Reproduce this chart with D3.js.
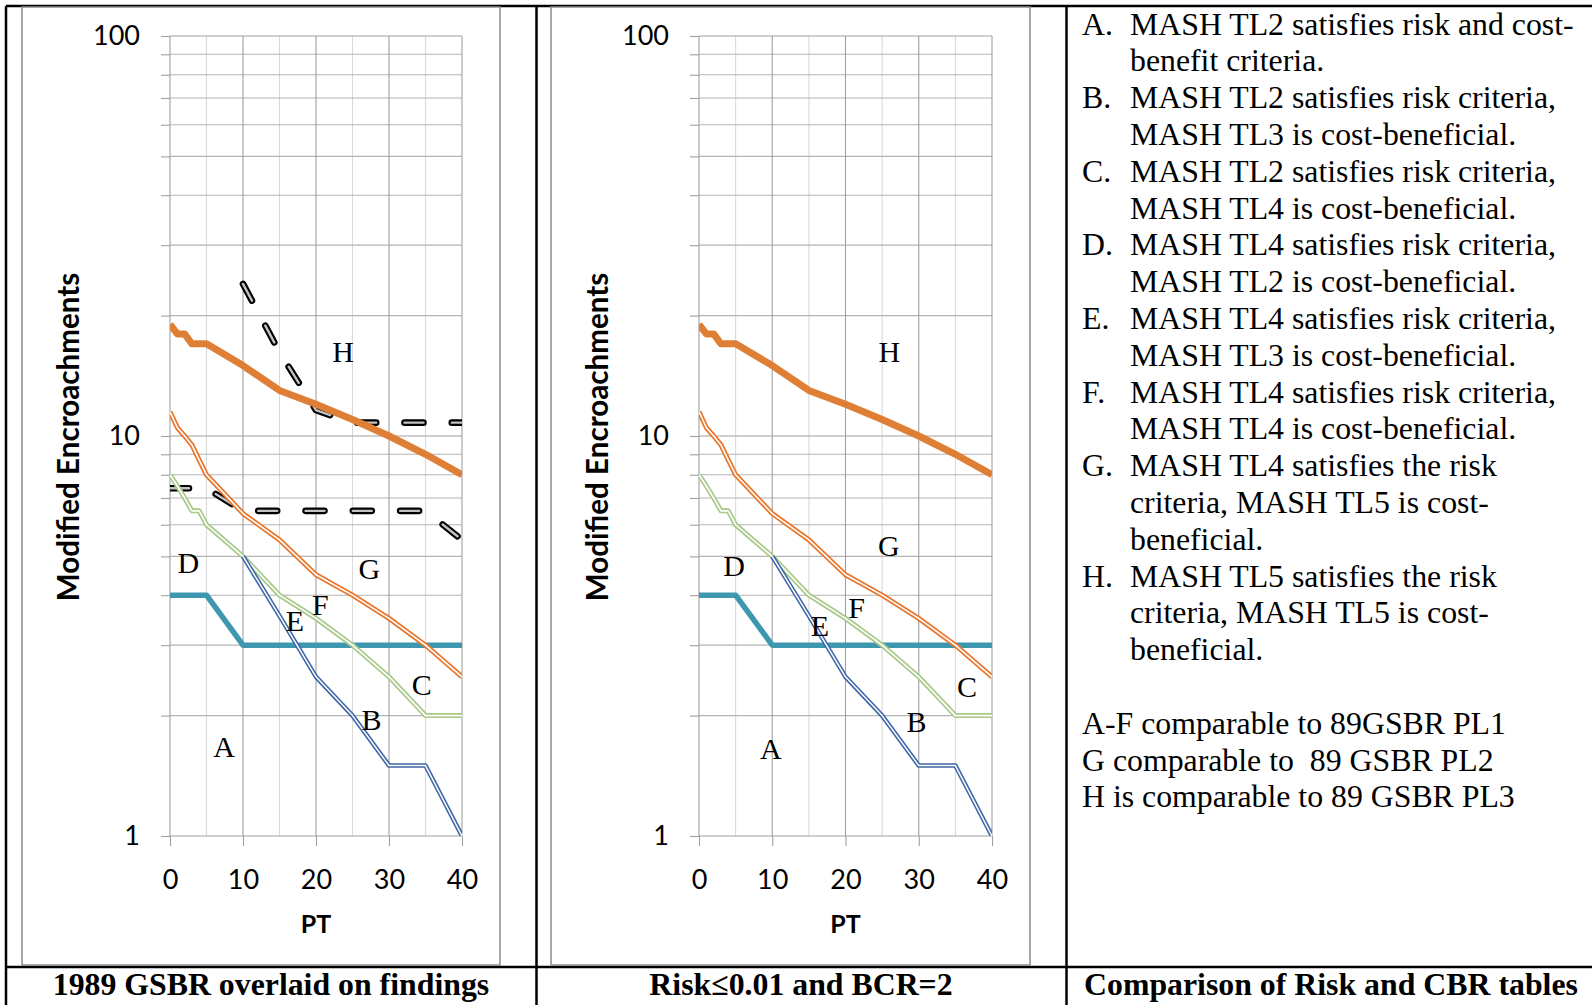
<!DOCTYPE html>
<html>
<head>
<meta charset="utf-8">
<script src="https://cdn.jsdelivr.net/npm/d3@7"></script>
<style>
  html, body { margin: 0; padding: 0; background: #fff; }
  svg { display: block; }
</style>
</head>
<body>
<svg id="page" width="1592" height="1005"></svg>
<script>
// ---- data ---------------------------------------------------------------
// PT values at which the boundary curves are defined
const ptMain   = [0, 1, 2, 3, 4, 5, 10, 15, 20, 25, 30, 35, 40];
// H boundary (MASH TL5 region), thick orange
const boundH   = [19, 18, 18, 17, 17, 17, 15, 13, 12, 11, 10, 9, 8];
// G boundary, thin orange double line
const boundG   = [11.5, 10.5, 10, 9.5, 8.7, 8, 6.4, 5.5, 4.5, 4, 3.5, 3, 2.5];
// F/C boundary, light green double line
const boundF   = [8, 7.5, 7, 6.5, 6.5, 6, 5, 4, 3.5, 3, 2.5, 2, 2];
// E/B boundary, blue double line
const ptE      = [10, 15, 20, 25, 30, 35, 40];
const boundE   = [5, 3.55, 2.5, 2, 1.5, 1.5, 1];
// A/D boundary, teal
const ptA      = [0, 5, 10, 40];
const boundA   = [4, 4, 3, 3];
// 1989 GSBR performance-level boundaries (dashed, left panel only)
const ptGsbrPL3   = [10, 15, 20, 25, 30, 35, 40];
const gsbrPL3     = [24, 16.2, 11.6, 10.8, 10.8, 10.8, 10.8];
const ptGsbrPL2   = [0, 5, 10, 15, 20, 25, 30, 35, 40];
const gsbrPL2     = [7.4, 7.4, 6.5, 6.5, 6.5, 6.5, 6.5, 6.5, 5.5];

// axis ticks
const xTicks     = [0, 10, 20, 30, 40];
const xMinor     = [5, 15, 25, 35];
const yTicks     = [1, 2, 3, 4, 5, 6, 7, 8, 9, 10, 20, 30, 40, 50, 60, 70, 80, 90, 100];
const yLabelled  = [1, 10, 100];

// region letters placed at (PT, encroachments)
const lettersLeft  = [["H", 23.7, 16.2], ["D", 2.5, 4.8], ["G", 27.3, 4.64], ["F", 20.6, 3.78],
                      ["E", 17.1, 3.45], ["C", 34.5, 2.39], ["B", 27.6, 1.95], ["A", 7.4, 1.67]];
const lettersRight = [["H", 26.0, 16.2], ["G", 25.9, 5.3], ["D", 4.8, 4.73], ["F", 21.5, 3.71],
                      ["E", 16.5, 3.34], ["C", 36.6, 2.36], ["B", 29.7, 1.93], ["A", 9.8, 1.65]];

const captions = ["1989 GSBR overlaid on findings", "Risk\u22640.01 and BCR=2", "Comparison of Risk and CBR tables"];

// right-hand column: [list marker, text]
const notes = [
  ["A.", "MASH TL2 satisfies risk and cost-"],
  ["",   "benefit criteria."],
  ["B.", "MASH TL2 satisfies risk criteria,"],
  ["",   "MASH TL3 is cost-beneficial."],
  ["C.", "MASH TL2 satisfies risk criteria,"],
  ["",   "MASH TL4 is cost-beneficial."],
  ["D.", "MASH TL4 satisfies risk criteria,"],
  ["",   "MASH TL2 is cost-beneficial."],
  ["E.", "MASH TL4 satisfies risk criteria,"],
  ["",   "MASH TL3 is cost-beneficial."],
  ["F.", "MASH TL4 satisfies risk criteria,"],
  ["",   "MASH TL4 is cost-beneficial."],
  ["G.", "MASH TL4 satisfies the risk"],
  ["",   "criteria, MASH TL5 is cost-"],
  ["",   "beneficial."],
  ["H.", "MASH TL5 satisfies the risk"],
  ["",   "criteria, MASH TL5 is cost-"],
  ["",   "beneficial."]
];
const comparisons = [
  "A-F comparable to 89GSBR PL1",
  "G comparable to \u00a089 GSBR PL2",
  "H is comparable to 89 GSBR PL3"
];

// ---- drawing ------------------------------------------------------------
const svg = d3.select("#page");
const serif = "'Liberation Serif', 'Times New Roman', serif";
const sans = "Lato, 'Open Sans', sans-serif";

// table rules
const rules = svg.append("g").attr("stroke", "#000").attr("stroke-width", 2.5);
[[6, 6, 1592, 6], [6, 967, 1592, 967], [6, 6, 6, 1005],
 [536.5, 6, 536.5, 1005], [1066.5, 6, 1066.5, 1005]].forEach(r =>
  rules.append("line").attr("x1", r[0]).attr("y1", r[1]).attr("x2", r[2]).attr("y2", r[3]));

function series(px, vals) { return px.map((p, i) => [p, vals[i]]); }

function drawChart(opts) {
  const g = svg.append("g");
  g.append("rect")
    .attr("x", opts.frame[0]).attr("y", opts.frame[1])
    .attr("width", opts.frame[2] - opts.frame[0]).attr("height", opts.frame[3] - opts.frame[1])
    .attr("fill", "#fff").attr("stroke", "#8c8c8c").attr("stroke-width", 1.5);

  const x = d3.scaleLinear().domain([0, 40]).range([opts.left, opts.right]);
  const y = d3.scaleLog().domain([1, 100]).range([836, 36]);

  // grid
  const grid = g.append("g");
  grid.selectAll("line.vmin").data(xMinor).join("line")
    .attr("x1", d => x(d)).attr("x2", d => x(d)).attr("y1", y(1)).attr("y2", y(100))
    .attr("stroke", "#dadada").attr("stroke-width", 1.1);
  grid.selectAll("line.hmin").data(yTicks.filter(d => !yLabelled.includes(d))).join("line")
    .attr("x1", x(0)).attr("x2", x(40)).attr("y1", d => y(d)).attr("y2", d => y(d))
    .attr("stroke", "#b4b4b4").attr("stroke-width", 1.1);
  grid.selectAll("line.vmaj").data(xTicks).join("line")
    .attr("x1", d => x(d)).attr("x2", d => x(d)).attr("y1", y(1)).attr("y2", y(100))
    .attr("stroke", "#a0a0a0").attr("stroke-width", 1.1);
  grid.selectAll("line.hmaj").data(yLabelled).join("line")
    .attr("x1", x(0)).attr("x2", x(40)).attr("y1", d => y(d)).attr("y2", d => y(d))
    .attr("stroke", "#a0a0a0").attr("stroke-width", 1.1);

  // axes
  const yAxis = d3.axisLeft(y).tickValues(yTicks).tickSize(9).tickPadding(21)
    .tickFormat(d => yLabelled.includes(d) ? String(d) : "");
  const ya = g.append("g").attr("transform", `translate(${x(0)},0)`).call(yAxis);
  const xAxis = d3.axisBottom(x).tickValues(xTicks).tickSize(10).tickPadding(24);
  const xa = g.append("g").attr("transform", `translate(0,${y(1)})`).call(xAxis);
  [ya, xa].forEach(a => {
    a.select(".domain").remove();
    a.selectAll(".tick line").attr("stroke", "#a0a0a0").attr("stroke-width", 1.1);
    a.selectAll(".tick text").attr("fill", "#000").style("font-family", sans).style("font-size", "27px");
  });

  // axis titles
  g.append("text")
    .attr("transform", `translate(${opts.left - 91},437) rotate(-90)`)
    .attr("text-anchor", "middle").style("font-family", sans).style("font-weight", "bold")
    .style("font-size", "29.6px").text("Modified Encroachments");
  g.append("text")
    .attr("x", (x(0) + x(40)) / 2).attr("y", 933)
    .attr("text-anchor", "middle").style("font-family", sans).style("font-weight", "bold")
    .style("font-size", "25px").text("PT");

  // boundary curves, clipped to the plot area
  const clipId = "clip" + opts.id;
  g.append("clipPath").attr("id", clipId).append("rect")
    .attr("x", x(0)).attr("y", y(100)).attr("width", x(40) - x(0)).attr("height", y(1) - y(100));
  const plot = g.append("g").attr("clip-path", `url(#${clipId})`)
    .attr("fill", "none").attr("stroke-linejoin", "round");
  const line = d3.line().x(d => x(d[0])).y(d => y(d[1]));

  if (opts.gsbr) {
    [series(ptGsbrPL3, gsbrPL3), series(ptGsbrPL2, gsbrPL2)].forEach(s => {
      plot.append("path").attr("d", line(s)).attr("stroke", "#000").attr("stroke-width", 6.6)
        .attr("stroke-linecap", "round").attr("stroke-dasharray", "19 28.3");
      plot.append("path").attr("d", line(s)).attr("stroke", "#c2c2c2").attr("stroke-width", 2.4)
        .attr("stroke-linecap", "round").attr("stroke-dasharray", "19 28.3");
    });
  }

  plot.append("path").attr("d", line(series(ptA, boundA)))
    .attr("stroke", "#3d97af").attr("stroke-width", 5.5);

  function doubleLine(s, color, w) {
    plot.append("path").attr("d", line(s)).attr("stroke", color).attr("stroke-width", w);
    plot.append("path").attr("d", line(s)).attr("stroke", "#fff").attr("stroke-width", w * 0.32);
  }
  doubleLine(series(ptMain, boundF), "#a9c98b", 5);
  doubleLine(series(ptE, boundE), "#3f66a6", 4.6);
  doubleLine(series(ptMain, boundG), "#e8762c", 5);

  plot.append("path").attr("d", line(series(ptMain, boundH)))
    .attr("stroke", "#df7f36").attr("stroke-width", 7);

  // region letters
  g.selectAll("text.region").data(opts.letters).join("text")
    .attr("x", d => x(d[1])).attr("y", d => y(d[2])).attr("dy", "0.33em")
    .attr("text-anchor", "middle").style("font-family", serif).style("font-size", "30px")
    .text(d => d[0]);
}

drawChart({ id: 1, frame: [22, 7, 500, 965], left: 170, right: 462, letters: lettersLeft, gsbr: true });
drawChart({ id: 2, frame: [551, 7, 1030, 965], left: 699, right: 992, letters: lettersRight, gsbr: false });

// right-hand column text
const notesG = svg.append("g").style("font-family", serif).style("font-size", "31.8px");
const lineStep = 36.8;
notes.forEach((n, i) => {
  const yb = 34.5 + i * lineStep;
  if (n[0]) notesG.append("text").attr("x", 1082).attr("y", yb).text(n[0]);
  notesG.append("text").attr("x", 1130).attr("y", yb).text(n[1]);
});
comparisons.forEach((c, i) => {
  notesG.append("text").attr("x", 1082).attr("y", 34.5 + (notes.length + 1 + i) * lineStep)
    .style("white-space", "pre").text(c);
});

// captions row
const capX = [271, 801, 1331];
svg.append("g").selectAll("text").data(captions).join("text")
  .attr("x", (d, i) => capX[i]).attr("y", 995).attr("text-anchor", "middle")
  .style("font-family", serif).style("font-weight", "bold").style("font-size", "31.8px")
  .text(d => d);
</script>
</body>
</html>
